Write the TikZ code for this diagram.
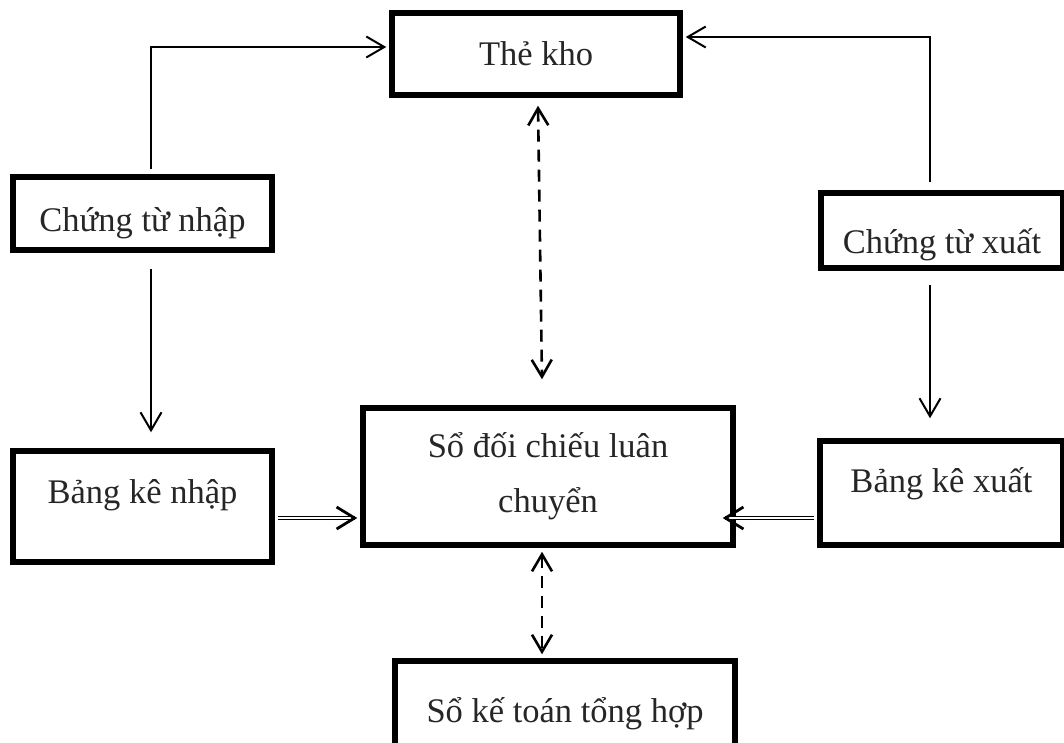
\documentclass[tikz,border=0pt]{standalone}
\usepackage{fontspec}
\setmainfont{Liberation Serif}
\usetikzlibrary{arrows.meta,calc}

% raise (or lower) a label inside its frame
\newcommand{\liftby}[2]{\raisebox{#1}{#2}}

\begin{document}
\begin{tikzpicture}[x=1pt,y=-1pt,
  frame/.style={draw=black, line width=5.5pt, inner sep=0pt,
    text=black!85, font=\fontsize{34.5}{55}\selectfont},
  box/.style={frame, text height=23pt, text depth=0pt},
  conn/.style={line width=2pt, -{Straight Barb[length=18pt,width=21pt]}},
  link/.style={line width=2.6pt, dash pattern=on 12pt off 8pt,
    {Straight Barb[length=17pt,width=20pt]}-{Straight Barb[length=17pt,width=20pt]}},
  feed/.style={draw=black, double=white, line width=1.2pt, double distance=1.6pt},
  feedtip/.style={line width=2.8pt, -{Straight Barb[length=18pt,width=22pt]}},
]
\useasboundingbox (0,0) rectangle (1064,742);
\clip (0,0) rectangle (1064,742);

% frames
\node[box, minimum width=288pt, minimum height=82pt]  (tk)  at (536,54)      {Thẻ kho};
\node[box, minimum width=259pt, minimum height=73pt]  (ctn) at (142.5,213.5) {\liftby{-6pt}{Chứng từ nhập}};
\node[box, minimum width=242pt, minimum height=75pt]  (ctx) at (942,230.5)   {\liftby{-11pt}{Chứng từ xuất}};
\node[box, minimum width=259pt, minimum height=111pt] (bkn) at (142.5,506.5) {\liftby{15pt}{Bảng kê nhập}};
\node[frame, minimum width=370pt, minimum height=137pt, align=center] (sdc) at (548,476.5) {Sổ đối chiếu luân\\chuyển};
\node[box, minimum width=243pt, minimum height=104pt] (bkx) at (941.5,493)   {\liftby{12pt}{Bảng kê xuất}};
\node[box, minimum width=340pt, minimum height=100pt] (skt) at (565,711)     {Sổ kế toán tổng hợp};

% vouchers to the stock card
\draw[conn] ([shift={(8.5,-5)}]ctn.north) |- ([shift={(-3,-7)}]tk.west);
\draw[conn] ([shift={(-12,-8)}]ctx.north) |- ([shift={(3,-17)}]tk.east);

% vouchers to the summary lists
\draw[conn] ([shift={(8.5,16)}]ctn.south) -- ([shift={(8.5,-16)}]bkn.north);
\draw[conn] ([shift={(-12,14)}]ctx.south) -- ([shift={(-11.5,-20)}]bkx.north);

% summary lists into the rotation ledger (double lines)
\draw[feed] ([shift={(3,11.5)}]bkn.east) -- ([shift={(-5,41.5)}]sdc.west);
\draw[feedtip] ([shift={(-4,41.5)}]sdc.west) -- ([shift={(-3,41.5)}]sdc.west);
\draw[feed] ([shift={(-3,25)}]bkx.west) -- ([shift={(-11,41.5)}]sdc.east);
\draw[feedtip] ([shift={(-12,41.5)}]sdc.east) -- ([shift={(-13,41.5)}]sdc.east);

% reconciliation links
\draw[link] ([shift={(2,8)}]tk.south) -- ([shift={(-6,-26)}]sdc.north);
\draw[link] ([shift={(-6,4)}]sdc.south) -- ([shift={(-23,-4)}]skt.north);
\end{tikzpicture}
\end{document}
